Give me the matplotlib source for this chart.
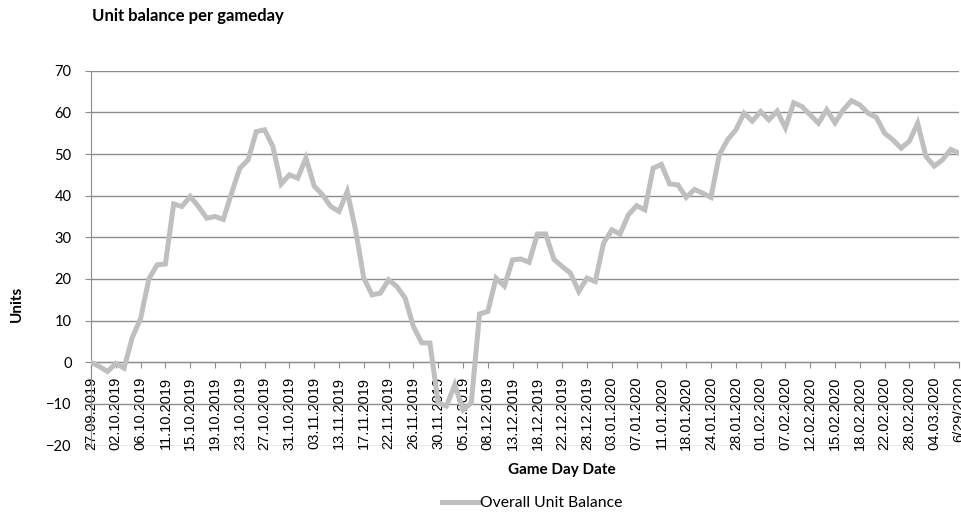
import matplotlib
matplotlib.use("Agg")
import matplotlib.pyplot as plt
import numpy as np

tick_labels = ["27.09.2019", "02.10.2019", "06.10.2019", "11.10.2019", "15.10.2019",
               "19.10.2019", "23.10.2019", "27.10.2019", "31.10.2019", "03.11.2019",
               "13.11.2019", "17.11.2019", "22.11.2019", "26.11.2019",
               "30.11.2019", "05.12.2019", "08.12.2019", "13.12.2019", "18.12.2019",
               "22.12.2019", "28.12.2019", "03.01.2020", "07.01.2020", "11.01.2020",
               "18.01.2020", "24.01.2020", "28.01.2020", "01.02.2020", "07.02.2020",
               "12.02.2020", "15.02.2020", "18.02.2020", "22.02.2020", "28.02.2020",
               "04.03.2020", "6/29/2020"]

units = [0, -1, -2.2, -0.3, -1.4, 6, 10.5, 20, 23.4, 23.6,
         38, 37.4, 39.8, 37.4, 34.6, 35, 34.3, 40.6, 46.6, 48.6,
         55.4, 55.8, 51.8, 42.8, 45, 44.2, 49, 42.3, 40.2, 37.4,
         36.2, 41, 31.8, 20.2, 16.2, 16.6, 19.8, 18.2, 15.4, 8.6,
         4.7, 4.6, -9.8, -10.5, -5.4, -11.4, -9.8, 11.6, 12.2, 20.2,
         18.3, 24.6, 24.8, 24, 30.8, 30.8, 24.7, 23, 21.4, 17,
         20.2, 19.4, 28.6, 31.8, 30.8, 35.4, 37.6, 36.6, 46.6, 47.5,
         42.8, 42.6, 39.6, 41.5, 40.6, 39.6, 49.8, 53.4, 55.8, 59.8,
         57.9, 60.2, 58.2, 60.3, 56.3, 62.3, 61.4, 59.4, 57.4, 60.6,
         57.5, 60.6, 62.8, 61.8, 59.8, 58.8, 55, 53.4, 51.4, 53.1,
         57.4, 49.4, 47.1, 48.6, 51.1, 50.2]

series_name = "Overall Unit Balance"

W, H = 961, 512
fig = plt.figure(figsize=(W / 100, H / 100), dpi=100)
left, right, top, bottom = 91, 959, 70.7, 445.6
ax = fig.add_axes([left / W, 1 - bottom / H, (right - left) / W, (bottom - top) / H])

x = np.arange(len(units))
line, = ax.plot(x, units, color="#bfbfbf", lw=3.6, solid_joinstyle="miter",
                label=series_name, zorder=3)

ax.set_xlim(0, len(units) - 1)
ax.set_ylim(-20, 70)
ax.set_yticks(np.arange(-20, 71, 10))
ax.yaxis.grid(True, color="#8c8c8c", lw=1.0)
ax.set_axisbelow(True)

for s in ["top", "right"]:
    ax.spines[s].set_visible(False)
ax.spines["left"].set_color("#8c8c8c")
ax.spines["bottom"].set_color("#8c8c8c")
ax.spines["bottom"].set_position(("data", 0))

ticks = x[::3]
ax.set_xticks(ticks)
ax.set_xticklabels(tick_labels, rotation=90, fontsize=10.5,
                   family="Liberation Sans")
ax.tick_params(axis="x", length=4, color="#8c8c8c", pad=6.5)
ax.tick_params(axis="y", length=4, color="#8c8c8c", labelsize=10.5, pad=10)
for t in ax.get_yticklabels():
    t.set_family("Lato")

fig.text(92 / W, 1 - 16 / H, "Unit balance per gameday", family="Lato",
         weight="bold", fontsize=12, ha="left", va="center")
fig.text(17 / W, 1 - 304 / H, "Units", family="Lato", weight="bold",
         fontsize=11, rotation=90, ha="center", va="center")
fig.text(562 / W, 1 - 470 / H, "Game Day Date", family="Lato", weight="bold",
         fontsize=11, ha="center", va="center")

leg = fig.legend(handles=[line], loc="center left", bbox_to_anchor=(442 / W, 1 - 503 / H),
                 frameon=False, prop={"family": "Lato", "size": 11.3},
                 handlelength=2.4, handletextpad=0.05, borderpad=0, borderaxespad=0)

fig.savefig("out.png", dpi=100)
